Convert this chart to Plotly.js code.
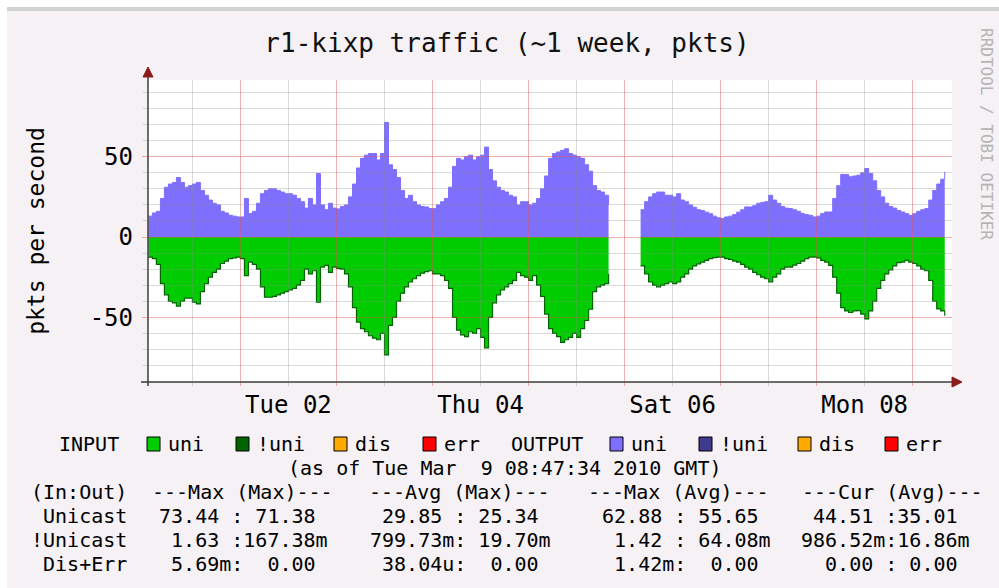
<!DOCTYPE html>
<html><head><meta charset="utf-8">
<script src="https://cdn.plot.ly/plotly-3.0.1.min.js"></script>
<style>html,body{margin:0;padding:0;background:#fff;}#chart{width:999px;height:588px;}</style>
</head><body><div id="chart"></div>
<script>
// ---------- data (hourly samples, pkts per second) ----------
const startTime = '2010-03-01 01:00:00';
const stepMs = 3600000;
const outputUnicast = [
 13,15,16,24,31,33,34,37,34,31,
 32,33,34,29,26,23,21,20,16,15,
 13.5,13,12.5,12.5,24,14.6,16,21,27,29,
 30,30,29,28,27,27,26,24,22,18,
 24,20,39.6,20,17,21,18,17.5,19,20,
 25,33,43,49,51,52,52,48,52,71.4,
 45,42,37,29,24,26,22,20,19,18.75,
 17.7,17.7,20,22,24,31,44,49,48,50,
 51,48,50,51,56,42,35,31,29,28,
 26,25,20,22,22,20,21,24,30,38,
 49,52,53,54,55,52,51,50,49,45,
 41,32,29,28,26,20,null,null,null,null,
 null,null,null,17,22,25,27,28,28,26,
 26,25,27,23,22,20,18.5,17,16.5,15.5,
 14.5,13,12,11.5,12.5,13,14,15.5,17,18.75,
 18.75,19.5,21,21.5,22,26,23,21,19,18,
 17.7,17,16,14.6,14,13.5,12.5,13,14.6,15.6,
 15.6,24,32,39,39,37.5,38,38.5,40,42.7,
 39.6,35,29,25,21,19,18,16.5,15.6,14.6,
 13.5,14.5,16,17,17.7,23,29,33,36,40.6
];
const inputUnicast = [
 12.5,13.5,17,29,36,40,41,43,40,38,
 38,40.6,41.7,34,29,25,22,20,16.5,15,
 13.5,13,12.5,13.5,24,15.6,17,20,31,37.5,
 37.5,37,36,35,34,33,32,30,27,20,
 23,21,40.6,18.75,17.7,22,18.75,19.5,20,23,
 31,44,53,57,59,61.5,63,64,60,73.4,
 55,50,40,35,31,28,26,24,22.5,21.5,
 21,23,23,24,27,32,50,58,61,62,
 59,60,57,62.5,69,50,41,36,33,31,
 29,27,22,24,25,27,24,30,37,48,
 57,60,62,65.6,64,62.5,60,62.5,57,52,
 45,34,31,30,29,23,null,null,null,null,
 null,null,null,18,23,28,30,31,30,29,
 28,29,28,25,23,20,18,16.7,15.6,14.5,
 13.5,12.8,12.5,12.5,13.5,14,15,15.6,17,18.75,
 20,22,23.5,25,26,28,25,23,20,18.75,
 18.75,17.5,16.5,15,13.5,12.5,12.5,13,14.5,15.6,
 17.7,25,35,44,46,47,46,45.8,48,51,
 46,40,32,27,23,20.5,18,16,15.6,14.6,
 15.6,16.5,18,20,21,27,40,44.8,46,49
];
const dayTickDates = ['2010-03-02 12:00','2010-03-04 12:00','2010-03-06 12:00','2010-03-08 12:00'];
const dayTickLabels = ['Tue 02','Thu 04','Sat 06','Mon 08'];
const yTickValues = [-50, 0, 50];
const yTickLabels = ['-50', '0', '50'];
const legendLabels = ['uni','!uni','dis','err'];
const inputColors = ['#00cc00','#006400','#ffaa00','#ff0000'];
const outputColors = ['#7f6fff','#3f3a8c','#ffaa00','#ff0000'];
const statRowLabels = ['(In:Out)',' Unicast','!Unicast',' Dis+Err'];
const statHeaders = ['---Max (Max)---','---Avg (Max)---','---Max (Avg)---','---Cur (Avg)---'];
const unicastStats = [' 73.44 : 71.38 ',' 29.85 : 25.34 ',' 62.88 : 55.65 ',' 44.51 :35.01 '];
const nonUnicastStats = ['  1.63 :167.38m','799.73m: 19.70m','  1.42 : 64.08m','986.52m:16.86m'];
const disErrStats = ['  5.69m:  0.00 ',' 38.04u:  0.00 ','  1.42m:  0.00 ','  0.00 : 0.00 '];
const asOfText = '(as of Tue Mar  9 08:47:34 2010 GMT)';

// ---------- geometry helpers ----------
const L = 148, R = 952, T = 80, B = 382;
const fx = x => (x - L) / (R - L);
const fy = y => (B - y) / (B - T);
const nb = s => s.replace(/ /g, '\u00a0');
const MONO = 'DejaVu Sans Mono';
const xRange = ['2010-03-01 00:54', '2010-03-09 09:49'];
const yRange = [-90.3, 97.8];
const MGRID = 'rgba(222,80,80,0.45)';
const GRID = 'rgba(140,140,140,0.32)';

// split a series into contiguous (non-missing) runs so each area is filled on its own
const t0 = Date.parse(startTime.replace(' ', 'T') + 'Z');
function runs(arr) {
  const out = []; let cur = null;
  arr.forEach((v, i) => {
    if (v === null) { cur = null; return; }
    if (!cur) { cur = {start: i, y: []}; out.push(cur); }
    cur.y.push(v);
  });
  return out.map(r => ({x0: new Date(t0 + r.start * stepMs).toISOString().slice(0, 19).replace('T', ' '), y: r.y}));
}

const traces = [];
runs(outputUnicast).forEach(r => traces.push({type:'scatter', mode:'lines', x0:r.x0, dx:stepMs, y:r.y,
   line:{shape:'hv', color:outputColors[0], width:1}, fill:'tozeroy', fillcolor:outputColors[0],
   hoverinfo:'skip', xaxis:'x', yaxis:'y'}));
runs(inputUnicast).forEach(r => traces.push({type:'scatter', mode:'lines', x0:r.x0, dx:stepMs, y:r.y.map(v => -v),
   line:{shape:'hv', color:inputColors[1], width:1.2}, fill:'tozeroy', fillcolor:inputColors[0],
   hoverinfo:'skip', xaxis:'x', yaxis:'y'}));
// empty trace that carries the grid subplot drawn above the areas
traces.push({type:'scatter', mode:'lines', x:[], y:[], xaxis:'x2', yaxis:'y2', hoverinfo:'skip'});

function txt(text, x, y, opts) {
  return Object.assign({xref:'paper', yref:'paper', x:fx(x), y:fy(y), xanchor:'left', yanchor:'middle',
    showarrow:false, text:nb(text), borderpad:0, font:{family:MONO, size:20, color:'#000'}}, opts || {});
}

const annotations = [];
const shapes = [];
// background frame
shapes.push({type:'rect', xref:'paper', yref:'paper', layer:'below', x0:fx(0), x1:fx(1000), y0:fy(0), y1:fy(7), fillcolor:'#ffffff', line:{width:0}});
shapes.push({type:'rect', xref:'paper', yref:'paper', layer:'below', x0:fx(0), x1:fx(7), y0:fy(0), y1:fy(590), fillcolor:'#ffffff', line:{width:0}});
shapes.push({type:'rect', xref:'paper', yref:'paper', layer:'below', x0:fx(7), x1:fx(1000), y0:fy(7), y1:fy(11), fillcolor:'#d2d2d2', line:{width:0}});
shapes.push({type:'rect', xref:'paper', yref:'paper', layer:'below', x0:0, x1:1, y0:0, y1:1, fillcolor:'#ffffff', line:{width:0}});
// axes with arrows
shapes.push({type:'line', xref:'paper', yref:'paper', layer:'above', x0:fx(141), x1:fx(953), y0:fy(382), y1:fy(382), line:{color:'#3c3c3c', width:1.5}});
shapes.push({type:'line', xref:'paper', yref:'paper', layer:'above', x0:fx(148), x1:fx(148), y0:fy(386), y1:fy(76), line:{color:'#3c3c3c', width:1.5}});
shapes.push({type:'path', xref:'paper', yref:'paper', layer:'above', fillcolor:'#8b1a1a', line:{color:'#8b1a1a', width:1},
  path:`M ${fx(143)} ${fy(77)} L ${fx(148)} ${fy(67)} L ${fx(153)} ${fy(77)} Z`});
shapes.push({type:'path', xref:'paper', yref:'paper', layer:'above', fillcolor:'#8b1a1a', line:{color:'#8b1a1a', width:1},
  path:`M ${fx(952)} ${fy(377)} L ${fx(962)} ${fy(382)} L ${fx(952)} ${fy(387)} Z`});

// legend row
const boxLefts = [147, 236, 334, 423, 610, 699, 798, 885];
annotations.push(txt('INPUT', 58, 444));
annotations.push(txt('OUTPUT', 510, 444));
legendLabels.concat(legendLabels).forEach((lab, i) => {
  const col = i < 4 ? inputColors[i] : outputColors[i - 4];
  const bx = boxLefts[i];
  shapes.push({type:'rect', xref:'paper', yref:'paper', x0:fx(bx), x1:fx(bx + 13), y0:fy(437), y1:fy(451),
    fillcolor:col, line:{color:'#000', width:1}});
  annotations.push(txt(lab, bx + 20, 444));
});
annotations.push(txt(asOfText, 504, 468, {xanchor:'center'}));
// stats table
const cellX = [146, 369, 589, 800];
const headX = [151, 368, 587, 801];
const rowY = [492, 516, 540, 564];
statRowLabels.forEach((lab, r) => annotations.push(txt(lab, 30, rowY[r])));
statHeaders.forEach((h, c) => annotations.push(txt(h, headX[c], rowY[0])));
[unicastStats, nonUnicastStats, disErrStats].forEach((row, r) => {
  row.forEach((cell, c) => annotations.push(txt(cell, cellX[c], rowY[r + 1])));
});
// watermark
annotations.push({xref:'paper', yref:'paper', x:fx(987), y:fy(134), xanchor:'center', yanchor:'middle', showarrow:false,
  textangle:90, text:'RRDTOOL / TOBI OETIKER', font:{family:MONO, size:16, color:'#b4b4b4'}});

const layout = {
  width:999, height:588,
  margin:{l:L, r:999 - R, t:T, b:588 - B, pad:0},
  paper_bgcolor:'#f5f1f4', plot_bgcolor:'rgba(0,0,0,0)',
  showlegend:false,
  title:{text:'r1-kixp traffic (~1 week, pkts)', font:{family:MONO, size:26, color:'#111'},
    x:507/999, xanchor:'center', y:1 - 43/588, yanchor:'middle'},
  xaxis:{type:'date', range:xRange, domain:[0,1], anchor:'y', showgrid:false, zeroline:false, showline:false,
    tickmode:'array', tickvals:dayTickDates, ticktext:dayTickLabels, ticks:'',
    tickfont:{family:MONO, size:24, color:'#000'}, ticklabelstandoff:6, fixedrange:true},
  yaxis:{range:yRange, domain:[0,1], anchor:'x', showgrid:false, zeroline:false, showline:false,
    tickmode:'array', tickvals:yTickValues, ticktext:yTickLabels, ticks:'',
    tickfont:{family:MONO, size:24, color:'#000'}, ticklabelstandoff:14,
    title:{text:'pkts per second', font:{family:MONO, size:23, color:'#000'}, standoff:38}, fixedrange:true},
  xaxis2:{type:'date', range:xRange, domain:[0,1], anchor:'y2', showticklabels:false, zeroline:false, showline:false,
    tick0:'2010-03-01', dtick:86400000, showgrid:true, gridcolor:MGRID, gridwidth:1,
    ticks:'outside', ticklen:3, tickcolor:MGRID,
    minor:{tick0:'2010-03-01', dtick:43200000, showgrid:true, gridcolor:GRID, gridwidth:1, ticks:'outside', ticklen:3, tickcolor:GRID},
    fixedrange:true},
  yaxis2:{range:yRange, domain:[0,1], anchor:'x2', showticklabels:false, showline:false,
    tick0:0, dtick:50, showgrid:true, gridcolor:MGRID, gridwidth:1,
    zeroline:true, zerolinecolor:MGRID, zerolinewidth:1,
    ticks:'outside', ticklen:5, tickcolor:MGRID,
    minor:{tick0:0, dtick:10, showgrid:true, gridcolor:GRID, gridwidth:1, ticks:'outside', ticklen:4, tickcolor:GRID},
    fixedrange:true},
  shapes:shapes,
  annotations:annotations
};

Plotly.newPlot('chart', traces, layout, {displayModeBar:false, staticPlot:true});
</script>
</body></html>
